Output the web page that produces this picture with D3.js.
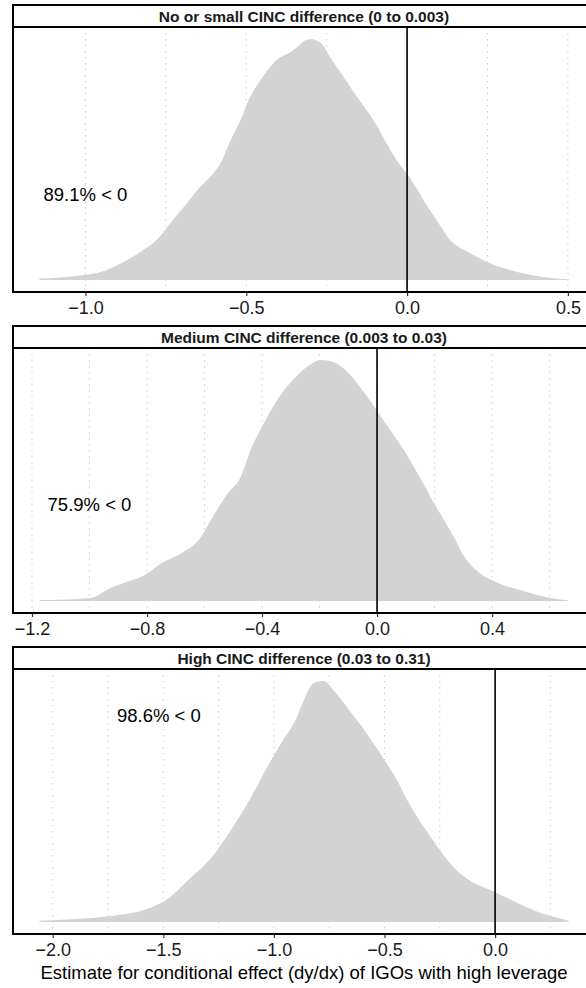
<!DOCTYPE html>
<html>
<head>
<meta charset="utf-8">
<script src="https://cdn.jsdelivr.net/npm/d3@7"></script>
<style>
  body { margin: 0; background: #fff; }
  svg text { font-family: "Liberation Sans", Arial, Helvetica, sans-serif; }
</style>
</head>
<body>
<svg id="chart" width="586" height="988"></svg>
<script>
// strip titles for the three CINC groups
var panelTitles = [
  "No or small CINC difference (0 to 0.003)",
  "Medium CINC difference (0.003 to 0.03)",
  "High CINC difference (0.03 to 0.31)"
];
var shareLabels = ["89.1% < 0", "75.9% < 0", "98.6% < 0"];
// where each share label sits, in data units [estimate, density]
var shareLabelX = [-1.0, -1.0, -1.52];
var shareLabelY = [0.63, 0.58, 1.14];

// posterior density of dy/dx, small CINC difference
var smallEst = [-1.143, -1.031, -0.931, -0.882, -0.829, -0.776, -0.726, -0.682, -0.642, -0.611,
  -0.579, -0.548, -0.517, -0.492, -0.449, -0.405, -0.361, -0.302, -0.268, -0.240, -0.206,
  -0.171, -0.106, -0.034, 0.012, 0.059, 0.106, 0.131, 0.190, 0.249, 0.343, 0.424, 0.502];
var smallDens = [0.010, 0.029, 0.075, 0.132, 0.205, 0.300, 0.446, 0.571, 0.688, 0.761,
  0.863, 1.031, 1.178, 1.324, 1.492, 1.617, 1.675, 1.770, 1.741, 1.639, 1.522,
  1.397, 1.178, 0.885, 0.739, 0.556, 0.388, 0.300, 0.205, 0.132, 0.059, 0.022, 0.005];

// medium CINC difference
var mediumEst = [-1.174, -0.996, -0.927, -0.882, -0.812, -0.753, -0.684, -0.614, -0.579, -0.520,
  -0.475, -0.440, -0.388, -0.336, -0.284, -0.239, -0.197, -0.152, -0.110, -0.058, -0.006,
  0.046, 0.098, 0.151, 0.203, 0.255, 0.314, 0.360, 0.405, 0.509, 0.586, 0.666];
var mediumDens = [0.005, 0.018, 0.078, 0.108, 0.151, 0.223, 0.283, 0.380, 0.482, 0.645,
  0.741, 0.904, 1.084, 1.235, 1.343, 1.410, 1.446, 1.434, 1.386, 1.283, 1.157,
  1.024, 0.892, 0.735, 0.572, 0.422, 0.241, 0.163, 0.120, 0.060, 0.024, 0.003];

// high CINC difference
var highEst = [-2.060, -1.726, -1.559, -1.473, -1.388, -1.284, -1.194, -1.103, -1.035, -0.968,
  -0.900, -0.854, -0.818, -0.778, -0.719, -0.652, -0.584, -0.516, -0.449, -0.381, -0.313,
  -0.245, -0.178, -0.106, -0.006, 0.079, 0.179, 0.332];
var highDens = [0.007, 0.034, 0.078, 0.134, 0.230, 0.353, 0.508, 0.690, 0.845, 0.985,
  1.120, 1.255, 1.320, 1.330, 1.262, 1.156, 1.048, 0.923, 0.794, 0.638, 0.508,
  0.389, 0.289, 0.222, 0.168, 0.118, 0.062, 0.007];

// axis breaks
var majorTicks = [
  [-1.0, -0.5, 0.0, 0.5],
  [-1.2, -0.8, -0.4, 0.0, 0.4],
  [-2.0, -1.5, -1.0, -0.5, 0.0]
];
var minorTicks = [
  [-0.75, -0.25, 0.25],
  [-1.0, -0.6, -0.2, 0.2, 0.6],
  [-1.75, -1.25, -0.75, -0.25, 0.25]
];

var xTitle = "Estimate for conditional effect (dy/dx) of IGOs with high leverage";

var estimates = [smallEst, mediumEst, highEst];
var densities = [smallDens, mediumDens, highDens];

var svg = d3.select("#chart");
var left = 13, right = 595;
var stripH = 22, panelH = 265, step = 321, top0 = 5;

// ggplot style 5% padding on both ends
function expand(ext) {
  var pad = (ext[1] - ext[0]) * 0.05;
  return [ext[0] - pad, ext[1] + pad];
}

function drawPanel(i) {
  var stripTop = top0 + i * step;
  var pTop = stripTop + stripH;
  var pBottom = pTop + panelH;

  var pts = estimates[i].map(function (v, j) { return { x: v, y: densities[i][j] }; });

  var x = d3.scaleLinear()
    .domain(expand(d3.extent(estimates[i])))
    .range([left, right]);
  var y = d3.scaleLinear()
    .domain(expand([0, d3.max(densities[i])]))
    .range([pBottom, pTop]);

  var g = svg.append("g");

  // dotted vertical grid
  g.selectAll("line.grid")
    .data(majorTicks[i].concat(minorTicks[i]))
    .enter().append("line")
    .attr("class", "grid")
    .attr("x1", function (d) { return x(d); })
    .attr("x2", function (d) { return x(d); })
    .attr("y1", pTop)
    .attr("y2", pBottom)
    .attr("stroke", "#cfcfcf")
    .attr("stroke-width", 1)
    .attr("stroke-dasharray", "1.5,4.5");

  var area = d3.area()
    .curve(d3.curveMonotoneX)
    .x(function (d) { return x(d.x); })
    .y0(y(0))
    .y1(function (d) { return y(d.y); });

  g.append("path")
    .datum(pts)
    .attr("d", area)
    .attr("fill", "#d3d3d3");

  // reference line at zero
  g.append("line")
    .attr("x1", x(0)).attr("x2", x(0))
    .attr("y1", pTop).attr("y2", pBottom)
    .attr("stroke", "#000")
    .attr("stroke-width", 1.6);

  g.append("text")
    .attr("x", x(shareLabelX[i]))
    .attr("y", y(shareLabelY[i]))
    .attr("dy", "0.35em")
    .attr("text-anchor", "middle")
    .attr("font-size", "18.5px")
    .attr("fill", "#000")
    .text(shareLabels[i]);

  // x axis
  var axis = g.append("g")
    .attr("transform", "translate(0," + pBottom + ")")
    .call(d3.axisBottom(x)
      .tickValues(majorTicks[i])
      .tickFormat(d3.format(".1f"))
      .tickSize(4)
      .tickPadding(5));
  axis.select(".domain").remove();
  axis.selectAll(".tick line").attr("stroke", "#333").attr("stroke-width", 1.2);
  axis.selectAll(".tick text")
    .attr("font-size", "18px")
    .attr("font-family", "Liberation Sans, Arial, sans-serif")
    .attr("fill", "#1a1a1a");

  // strip and panel borders
  g.append("rect")
    .attr("x", left).attr("y", stripTop)
    .attr("width", right - left).attr("height", stripH)
    .attr("fill", "none").attr("stroke", "#000").attr("stroke-width", 2);
  g.append("text")
    .attr("x", (left + right) / 2)
    .attr("y", stripTop + stripH / 2)
    .attr("dy", "0.36em")
    .attr("text-anchor", "middle")
    .attr("font-size", "15.5px")
    .attr("font-weight", "bold")
    .attr("fill", "#1a1a1a")
    .text(panelTitles[i]);
  g.append("rect")
    .attr("x", left).attr("y", pTop)
    .attr("width", right - left).attr("height", panelH)
    .attr("fill", "none").attr("stroke", "#000").attr("stroke-width", 2);
}

for (var i = 0; i < 3; i++) drawPanel(i);

svg.append("text")
  .attr("x", (left + right) / 2)
  .attr("y", 979)
  .attr("text-anchor", "middle")
  .attr("font-size", "18.5px")
  .attr("fill", "#000")
  .text(xTitle);
</script>
</body>
</html>
